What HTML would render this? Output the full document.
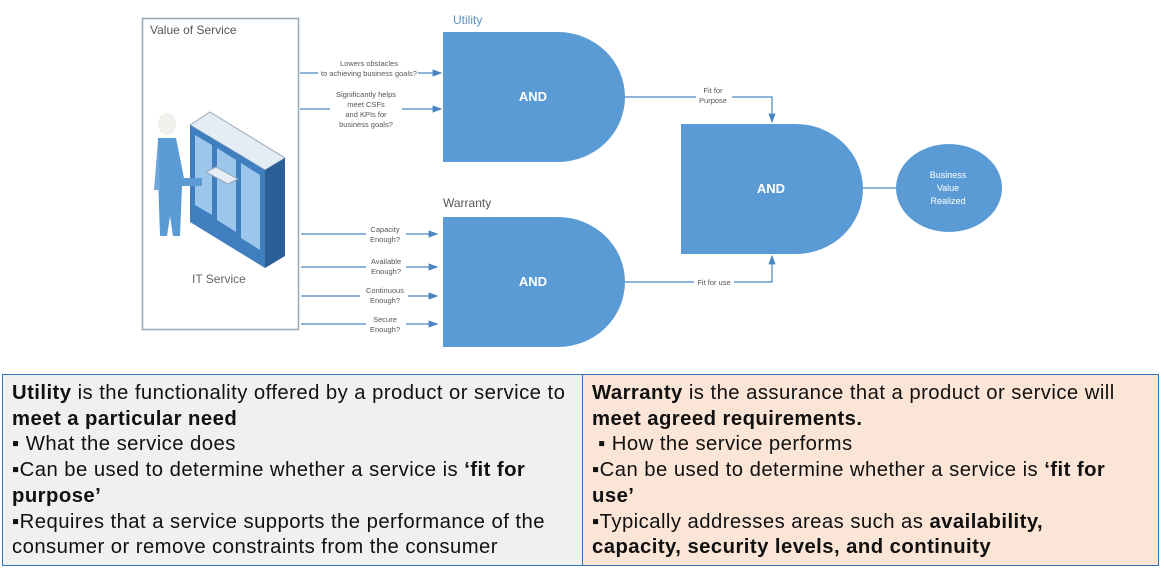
<!DOCTYPE html>
<html><head><style>
body{margin:0;width:1164px;height:571px;background:#fff;overflow:hidden;position:relative;font-family:"Liberation Sans",Arial,sans-serif}
svg{position:absolute;left:0;top:0}
.t{position:absolute;top:374px;height:192px;box-sizing:border-box;border:1.5px solid #2e75b6;font-size:20.3px;line-height:25.7px;color:#111;padding:6px 9px 0;white-space:nowrap;letter-spacing:0.45px}
</style></head><body>
<svg width="1164" height="374" font-family="Liberation Sans, sans-serif">
<defs><marker id="a" markerWidth="8" markerHeight="8" refX="7" refY="4" orient="auto"><path d="M0,1 L8,4 L0,7z" fill="#4a86c0"/></marker></defs>
<rect x="142.5" y="18.5" width="156" height="311" fill="#fff" stroke="#9aa8b4" stroke-width="1.5"/>
<text x="150" y="34" font-size="12" fill="#555">Value of Service</text>
<text x="192" y="283" font-size="12" fill="#666">IT Service</text>
<g>
<polygon points="190,125 210,112 285,158 265,170" fill="#e4ecf4" stroke="#9ab"/>
<polygon points="190,125 265,170 265,268 190,222" fill="#3f7fc0"/>
<polygon points="265,170 285,158 285,256 265,268" fill="#2a5f98"/>
<polygon points="195,135 212,145 212,215 195,205" fill="#9cc6ec"/>
<polygon points="217,148 236,160 236,232 217,220" fill="#9cc6ec"/>
<polygon points="241,163 260,175 260,250 241,238" fill="#9cc6ec"/>
<ellipse cx="167" cy="124" rx="9" ry="11" fill="#f2f0ec"/>
<path d="M158,138 h18 l8,40 h18 v8 h-20 l-2,50 h-7 l-3,-20 -3,20 h-7 l-2,-60 z" fill="#5b9bd5"/>
<path d="M158,140 l-4,50 h6 z" fill="#6fa8dc"/>
<polygon points="206,172 228,184 238,179 216,167" fill="#e8eef5" stroke="#9ab"/>
</g>
<g fill="#5b9bd5">
<path d="M443,32 H558 A67,65 0 0 1 558,162 H443 Z"/>
<path d="M443,217 H558 A67,65 0 0 1 558,347 H443 Z"/>
<path d="M681,124 H796 A67,65 0 0 1 796,254 H681 Z"/>
<ellipse cx="949" cy="188" rx="53" ry="44"/>
</g>
<g fill="#fff" font-weight="bold" font-size="13" text-anchor="middle">
<text x="533" y="101">AND</text><text x="533" y="286">AND</text><text x="771" y="193">AND</text>
</g>
<g fill="#fff" font-size="9" text-anchor="middle"><text x="948" y="178">Business</text><text x="948" y="191">Value</text><text x="948" y="204">Realized</text></g>
<text x="453" y="24" font-size="12" fill="#5b8fc2">Utility</text>
<text x="443" y="207" font-size="12" fill="#555">Warranty</text>
<g stroke="#4a86c0" stroke-width="1.2" fill="none">
<line x1="300" y1="73" x2="441" y2="73" marker-end="url(#a)"/>
<line x1="300" y1="109" x2="330" y2="109"/><line x1="402" y1="109" x2="441" y2="109" marker-end="url(#a)"/>
<line x1="301" y1="234" x2="437" y2="234" marker-end="url(#a)"/>
<line x1="301" y1="267" x2="437" y2="267" marker-end="url(#a)"/>
<line x1="301" y1="296" x2="437" y2="296" marker-end="url(#a)"/>
<line x1="301" y1="324" x2="437" y2="324" marker-end="url(#a)"/>
<path d="M625,97 H772 V122" marker-end="url(#a)"/>
<path d="M625,282 H772 V256" marker-end="url(#a)"/>
<line x1="863" y1="188" x2="896" y2="188"/>
</g>
<g font-size="7.5" fill="#555" text-anchor="middle">
<rect x="318" y="66" width="100" height="10" fill="#fff"/>
<text x="369" y="66">Lowers obstacles</text><text x="369" y="76">to achieving business goals?</text>
<text x="366" y="97">Significantly helps</text><text x="366" y="107">meet CSFs</text><text x="366" y="117">and KPIs for</text><text x="366" y="127">business goals?</text>
<rect x="366" y="226" width="40" height="20" fill="#fff"/><text x="385" y="232">Capacity</text><text x="385" y="242">Enough?</text>
<rect x="366" y="259" width="40" height="20" fill="#fff"/><text x="386" y="264">Available</text><text x="386" y="274">Enough?</text>
<rect x="360" y="288" width="48" height="20" fill="#fff"/><text x="385" y="293">Continuous</text><text x="385" y="303">Enough?</text>
<rect x="366" y="316" width="40" height="20" fill="#fff"/><text x="385" y="322">Secure</text><text x="385" y="332">Enough?</text>
<rect x="696" y="86" width="36" height="20" fill="#fff"/><text x="713" y="93">Fit for</text><text x="713" y="103">Purpose</text>
<rect x="694" y="278" width="40" height="8" fill="#fff"/><text x="714" y="285">Fit for use</text>
</g>
</svg>
<div class="t" style="left:2px;width:581px;background:#f0f0f0"><b>Utility</b> is the functionality offered by a product or service to<br><b>meet a particular need</b><br>▪ What the service does<br>▪Can be used to determine whether a service is <b>‘fit for</b><br><b>purpose’</b><br>▪Requires that a service supports the performance of the<br>consumer or remove constraints from the consumer</div>
<div class="t" style="left:582px;width:577px;background:#fbe5d6"><b>Warranty</b> is the assurance that a product or service will<br><b>meet agreed requirements.</b><br>&nbsp;▪ How the service performs<br>▪Can be used to determine whether a service is <b>‘fit for</b><br><b>use’</b><br>▪Typically addresses areas such as <b>availability,</b><br><b>capacity, security levels, and continuity</b></div>
</body></html>
